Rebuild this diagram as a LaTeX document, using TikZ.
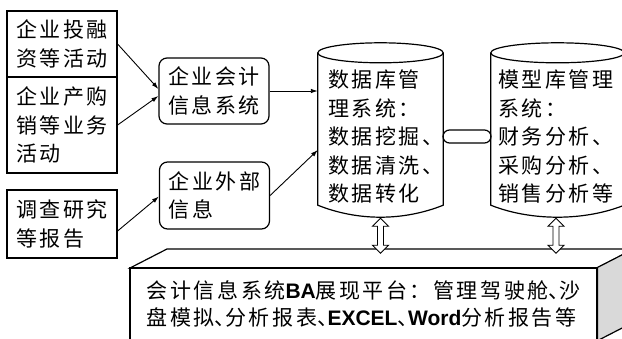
\documentclass[tikz,border=0pt]{standalone}
\usepackage{fontspec}
\newfontfamily\cjk{Noto Sans CJK SC}[LetterSpace=12]
\newfontfamily\latinsans{Liberation Sans}
\usetikzlibrary{arrows.meta, calc, positioning}
\newcommand{\dunhao}{\makebox[0.5em][l]{、}}
\newcommand{\lat}[1]{{\latinsans\bfseries #1}}

\begin{document}
\begin{tikzpicture}[x=1pt, y=-1pt,
    >={Latex[length=7pt,width=4.5pt]},
    every node/.style={font=\cjk\fontsize{21}{28.5}\selectfont, align=left, inner sep=0pt},
    srcbox/.style={draw, line width=1.2pt, minimum width=110pt},
    infobox/.style={draw, line width=1.2pt, rounded corners=8pt, minimum width=110pt, minimum height=66pt},
    cylbody/.style={minimum height=152pt},
    cyl/.style={line width=1.2pt},
    flow/.style={->, line width=0.9pt},
    dlinkline/.style={draw, fill=white, line width=0.9pt, line join=miter},
    pipe/.style={draw, line width=1.2pt, rounded corners=6.5pt, minimum width=48pt, minimum height=13pt}]

    \useasboundingbox (0,0) rectangle (622,338);
    \clip (0,0) rectangle (622,338);

    % data sources
    \node[srcbox, minimum height=66pt] (fin) at (62,44) {企业投融\\资等活动};
    \node[srcbox, minimum height=96pt] (trade) at (62,125) {企业产购\\销等业务\\活动};
    \node[srcbox, minimum height=68pt] (survey) at (62,224) {调查研究\\等报告};

    \node[infobox] (acc) at (214,91) {企业会计\\信息系统};
    \node[infobox, minimum height=67pt] (ext) at (214.5,195.5) {企业外部\\信息};

    % the two databases
    \node[cylbody, minimum width=125pt] (dbms) at (380.5,129) {};
    \node[cylbody, minimum width=133pt] (mbms) at (557.5,129) {};
    \foreach \c in {dbms,mbms} {
        \draw[cyl, fill=white] (\c.north west) -- (\c.south west)
            .. controls +(40,16) and +(-40,16) .. (\c.south east) -- (\c.north east);
        \path let \p1=($(\c.north east)-(\c.north west)$) in
            [draw, cyl] (\c.north) ellipse [x radius=0.5*\x1, y radius=10pt];
    }
    \node[anchor=west] (dbmstxt) at ($(dbms.west)+(10,8)$) {数据库管\\理系统：\\数据挖掘、\\数据清洗、\\数据转化};
    \node[anchor=west] (mbmstxt) at ($(mbms.west)+(7,8)$) {模型库管理\\系统：\\财务分析、\\采购分析、\\销售分析等};
    \node[pipe] (link) at (467,136.5) {};

    \draw[flow] (fin.east) -- ($(acc.west)+(0,-2)$);
    \draw[flow] (trade.east) -- ($(acc.west)+(0,5)$);
    \draw[flow] (acc.east) -- (acc.east -| dbms.west);
    \draw[flow] ($(survey.east)+(0,7)$) -- ($(ext.west)+(0,1)$);
    \draw[flow] (ext.east) -- ($(dbms.west)+(0,21)$);

    % presentation platform, drawn as a block
    \draw[line width=1.2pt, fill=white] (130,268) -- ++(37,-19) -- (634,249) -- (597,268) -- cycle;
    \node[draw, line width=1.2pt, fill=white, minimum width=467pt, minimum height=72pt,
        font=\cjk\fontsize{21}{27}\selectfont] (ba) at (363.5,304)
        {会计信息系统\lat{BA}展现平台：管理驾驶舱\dunhao 沙\\盘模拟\dunhao 分析报表\dunhao\lat{EXCEL}\dunhao\lat{Word}分析报告等};
    \draw[line width=1.2pt, fill=gray!30] (ba.north east) -- ++(37,-19) -- ($(ba.south east)+(37,-19)$) -- (ba.south east) -- cycle;

    % hollow two-way arrows under the databases
    \coordinate (dl1) at ($(dbms.south)+(0,30.5)$);
    \coordinate (dl2) at ($(mbms.south)+(-1.5,30.5)$);
    \foreach \d in {dl1,dl2}
        \draw[dlinkline, shift={(\d)}] (-3,-9.5) -- (-8,-9.5) -- (0,-17.5) -- (8,-9.5) -- (3,-9.5)
            -- (3,9.5) -- (8,9.5) -- (0,17.5) -- (-8,9.5) -- (-3,9.5) -- cycle;
\end{tikzpicture}
\end{document}
